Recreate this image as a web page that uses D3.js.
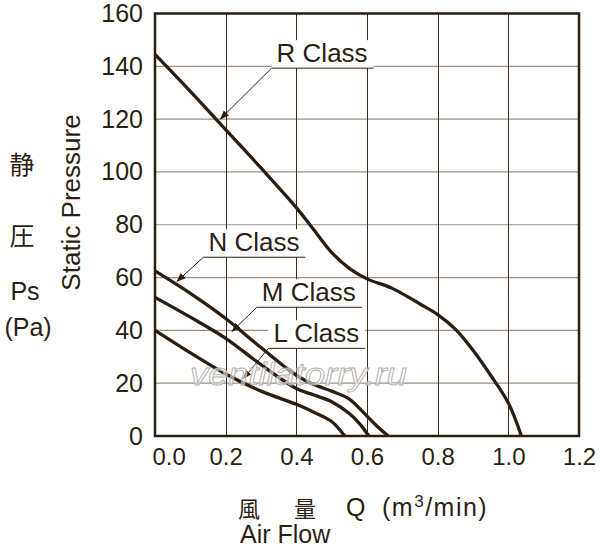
<!DOCTYPE html>
<html>
<head>
<meta charset="utf-8">
<script src="https://cdn.jsdelivr.net/npm/d3@7"></script>
<style>
  body { margin: 0; background: #fff; }
  text { font-family: "Liberation Sans", Arial, Helvetica, sans-serif; fill: #2b1f14; }
  .cjk { font-family: "Noto Sans CJK JP", "Noto Sans CJK SC", sans-serif; }
</style>
</head>
<body>
<div id="chart"></div>
<script>
// fan curves
var rFlow = [0, 0.1, 0.2, 0.3, 0.4, 0.45, 0.5, 0.55, 0.6, 0.67, 0.75, 0.8, 0.85, 0.9, 0.95, 1.0, 1.037];
var rPres = [144.5, 130.5, 116, 101.5, 86.5, 78, 69.5, 63.5, 59.5, 56, 50, 46, 40.5, 32.5, 23, 12.5, 0];

var nFlow = [0, 0.1, 0.2, 0.3, 0.4, 0.45, 0.5, 0.55, 0.6, 0.63, 0.66];
var nPres = [62.5, 54, 44.5, 33.5, 23, 19.5, 17, 14, 7.5, 3.5, 0];

var mFlow = [0, 0.1, 0.2, 0.3, 0.4, 0.45, 0.5, 0.55, 0.58, 0.605];
var mPres = [52.5, 45, 37, 27, 18, 15.5, 13, 8.5, 4.5, 0];

var lFlow = [0, 0.1, 0.2, 0.3, 0.4, 0.45, 0.5, 0.537];
var lPres = [40, 31.5, 23.5, 17, 12, 9, 5.5, 0];

var classNames = ["R Class", "N Class", "M Class", "L Class"];
// where each label's underline starts, and where its arrow points (data units)
var labelAt = [[0.33, 139.3], [0.137, 67.7], [0.288, 48.75], [0.321, 33.2]];
var arrowTo = [[0.184, 119.9], [0.061, 58.4], [0.217, 39.5], [0.249, 21.6]];

var xTicks = [0, 0.2, 0.4, 0.6, 0.8, 1.0, 1.2];
var yTicks = [0, 20, 40, 60, 80, 100, 120, 140, 160];

var width = 600, height = 550;
var ink = "#2b1d10";

var x = d3.scaleLinear().domain([0, 1.2]).range([155, 579]);
var y = d3.scaleLinear().domain([0, 160]).range([436, 13.5]);

var svg = d3.select("#chart").append("svg")
    .attr("width", width)
    .attr("height", height);

svg.append("defs").append("marker")
    .attr("id", "arrow")
    .attr("viewBox", "0 0 10 10")
    .attr("refX", 10).attr("refY", 5)
    .attr("markerWidth", 9).attr("markerHeight", 9)
    .attr("markerUnits", "userSpaceOnUse")
    .attr("orient", "auto")
  .append("path")
    .attr("d", "M0,1 L10,5 L0,9 Z")
    .attr("fill", ink);

// grid
svg.append("g").selectAll("line").data(yTicks.slice(1, -1)).enter().append("line")
    .attr("x1", x(0)).attr("x2", x(1.2))
    .attr("y1", function(d) { return y(d); })
    .attr("y2", function(d) { return y(d); })
    .attr("stroke", "#9a9086").attr("stroke-width", 1.2);
svg.append("g").selectAll("line").data(xTicks.slice(1, -1)).enter().append("line")
    .attr("y1", y(0)).attr("y2", y(160))
    .attr("x1", function(d) { return Math.round(x(d)) + 0.5; })
    .attr("x2", function(d) { return Math.round(x(d)) + 0.5; })
    .attr("stroke", "#3a2c1e").attr("stroke-width", 1);

// class labels, with white boxes behind them
var labels = svg.append("g");
var textNodes = [];
classNames.forEach(function(name, i) {
  var lx = x(labelAt[i][0]), ly = y(labelAt[i][1]);
  var t = labels.append("text")
      .attr("x", lx + 5).attr("y", ly - 6)
      .attr("font-size", 26)
      .text(name);
  textNodes.push(t);
});

var boxes = svg.insert("g", function() { return labels.node(); });
textNodes.forEach(function(t, i) {
  var bb = t.node().getBBox();
  var lx = x(labelAt[i][0]), ly = y(labelAt[i][1]);
  boxes.append("rect")
      .attr("x", lx).attr("y", bb.y + 2)
      .attr("width", bb.x + bb.width + 6 - lx)
      .attr("height", ly - bb.y - 2)
      .attr("fill", "#fff");
  labels.append("line")
      .attr("x1", lx).attr("x2", bb.x + bb.width + 6)
      .attr("y1", ly).attr("y2", ly)
      .attr("stroke", ink).attr("stroke-width", 1);
  labels.append("line")
      .attr("x1", lx).attr("y1", ly)
      .attr("x2", x(arrowTo[i][0])).attr("y2", y(arrowTo[i][1]))
      .attr("stroke", ink).attr("stroke-width", 1)
      .attr("marker-end", "url(#arrow)");
});

// curves
var line = d3.line()
    .x(function(d) { return x(d[0]); })
    .y(function(d) { return y(d[1]); })
    .curve(d3.curveCatmullRom.alpha(0.5));

var curves = [[rFlow, rPres], [nFlow, nPres], [mFlow, mPres], [lFlow, lPres]];
svg.append("g").selectAll("path").data(curves).enter().append("path")
    .attr("d", function(c) { return line(d3.zip(c[0], c[1])); })
    .attr("fill", "none")
    .attr("stroke", ink)
    .attr("stroke-width", 3.3)
    .attr("stroke-linejoin", "round");

// watermark
svg.append("text")
    .attr("x", 190).attr("y", 385)
    .attr("font-size", 31)
    .attr("font-style", "italic")
    .attr("textLength", 217)
    .attr("lengthAdjust", "spacingAndGlyphs")
    .style("fill", "#fff").style("fill-opacity", 0.55)
    .attr("stroke", "#b4b0ac").attr("stroke-width", 0.9)
    .text("ventilatorry.ru");

// frame
svg.append("rect")
    .attr("x", x(0)).attr("y", y(160))
    .attr("width", x(1.2) - x(0)).attr("height", y(0) - y(160))
    .attr("fill", "none").attr("stroke", ink).attr("stroke-width", 2.5);

// axes
var xAxis = svg.append("g")
    .attr("transform", "translate(0," + y(0) + ")")
    .call(d3.axisBottom(x).tickValues(xTicks).tickSize(0).tickPadding(12).tickFormat(d3.format(".1f")));
xAxis.select(".domain").remove();
xAxis.selectAll("text").attr("font-size", 24).style("fill", "#2b1f14")
    .attr("font-family", null);
xAxis.selectAll(".tick").filter(function(d) { return d === 0; }).select("text")
    .attr("text-anchor", "start").attr("x", -3);

var yAxis = svg.append("g")
    .attr("transform", "translate(" + x(0) + ",0)")
    .call(d3.axisLeft(y).tickValues(yTicks).tickSize(0).tickPadding(12));
yAxis.select(".domain").remove();
yAxis.selectAll("text").attr("font-size", 25).style("fill", "#2b1f14")
    .attr("font-family", null);

// axis titles
svg.append("text")
    .attr("transform", "translate(80,202.5) rotate(-90)")
    .attr("text-anchor", "middle")
    .attr("font-size", 26)
    .text("Static Pressure");

svg.append("text").attr("class", "cjk")
    .attr("x", 22).attr("y", 163).attr("dominant-baseline", "central")
    .attr("text-anchor", "middle").attr("font-size", 25)
    .text("静");
svg.append("text").attr("class", "cjk")
    .attr("x", 22).attr("y", 234).attr("dominant-baseline", "central")
    .attr("text-anchor", "middle").attr("font-size", 25)
    .text("圧");
svg.append("text")
    .attr("x", 25).attr("y", 300).attr("text-anchor", "middle").attr("font-size", 25)
    .text("Ps");
svg.append("text")
    .attr("x", 28).attr("y", 336).attr("text-anchor", "middle").attr("font-size", 25)
    .text("(Pa)");

svg.append("text").attr("class", "cjk")
    .attr("x", 238).attr("y", 517).attr("font-size", 22)
    .text("風");
svg.append("text").attr("class", "cjk")
    .attr("x", 294).attr("y", 517).attr("font-size", 22)
    .text("量");
svg.append("text")
    .attr("x", 346).attr("y", 516).attr("font-size", 25)
    .text("Q");
var unit = svg.append("text")
    .attr("x", 382).attr("y", 516).attr("font-size", 25)
    .attr("letter-spacing", 1.5);
unit.append("tspan").text("(m");
unit.append("tspan").attr("font-size", 17).attr("dy", -9).text("3");
unit.append("tspan").attr("dy", 9).text("/min)");

svg.append("text")
    .attr("x", 240).attr("y", 543).attr("font-size", 25)
    .text("Air Flow");
</script>
</body>
</html>
